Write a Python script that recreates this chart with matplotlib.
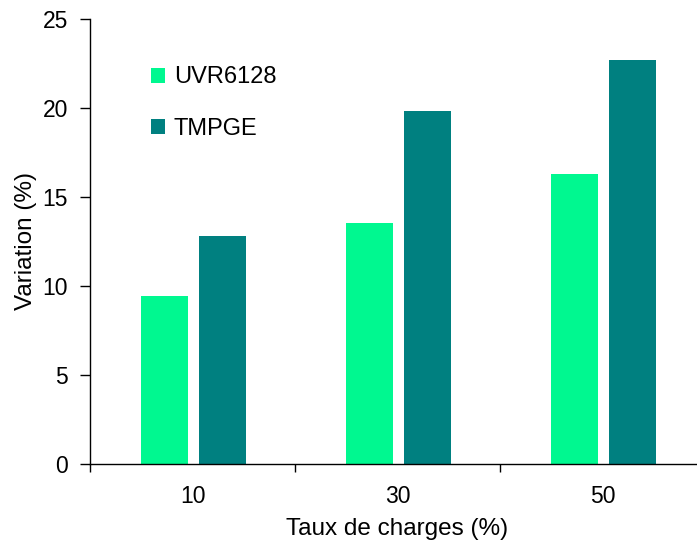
import numpy as np
import matplotlib
matplotlib.use("Agg")
import matplotlib.pyplot as plt

plt.rcParams["font.family"] = ["Liberation Sans", "DejaVu Sans"]

categories = ["10", "30", "50"]
uvr6128 = [9.4, 13.5, 16.3]
tmpge = [12.8, 19.8, 22.65]

fig = plt.figure(figsize=(6.97, 5.43), dpi=100)
ax = fig.add_axes([90 / 697, 79 / 543, 615 / 697, 445.5 / 543])

x = np.arange(1, len(categories) + 1)
ax.bar(x - 0.137, uvr6128, width=0.23, color="#00F890", label="UVR6128")
ax.bar(x + 0.146, tmpge, width=0.23, color="#008080", label="TMPGE")

ax.set_xlim(0.5, 3.5)
ax.set_ylim(0, 25)
ax.set_yticks([0, 5, 10, 15, 20, 25])
ax.set_xticks(x)
ax.set_xticklabels(categories)
ax.set_xticks([0.5, 1.5, 2.5, 3.5], minor=True)
ax.tick_params(axis="x", which="major", length=0, pad=15, labelsize=16.5)
ax.tick_params(axis="x", which="minor", length=6, width=1)
ax.tick_params(axis="y", length=7, width=1, labelsize=16.5, pad=9)

for s in ["top", "right"]:
    ax.spines[s].set_visible(False)
for s in ["left", "bottom"]:
    ax.spines[s].set_linewidth(1)

ax.set_xlabel("Taux de charges (%)", fontsize=17.5, labelpad=7)
ax.set_ylabel("Variation (%)", fontsize=17.5, labelpad=4)

ax.legend(loc="upper left", bbox_to_anchor=(0.065, 0.94), frameon=False,
          fontsize=17, handlelength=0.6, handleheight=0.6, handletextpad=0.35,
          labelspacing=1.25)

fig.savefig("out.png", dpi=100)
